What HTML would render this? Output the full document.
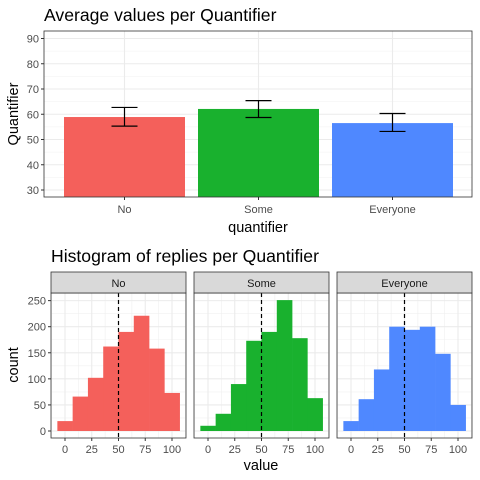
<!DOCTYPE html>
<html><head><meta charset="utf-8"><style>
body{margin:0;background:#fff}
svg{display:block;font-family:"Liberation Sans",sans-serif}
</style></head><body>
<svg id="c" width="480" height="480" viewBox="0 0 480 480"></svg>
<script>
const categories=["No","Some","Everyone"];
const meanValues=[58.9,62.1,56.5];
const errLow=[55.3,58.7,53.2];
const errHigh=[62.7,65.4,60.3];
const yTicksTop=[30,40,50,60,70,80,90];
const binCenters=[0,14.29,28.57,42.86,57.14,71.43,85.71,100];
const countsNo=[19,66,102,162,190,221,158,73];
const countsSome=[10,33,90,173,190,251,178,63];
const countsEveryone=[19,61,118,200,194,200,148,50];
const countTicks=[0,50,100,150,200,250];
const valueTicks=[0,25,50,75,100];
const fills=["#F4605B","#19B12E","#4F88FF"];
const svg=document.getElementById('c');
const NS="http://www.w3.org/2000/svg";
function el(tag,attrs,parent,text){const e=document.createElementNS(NS,tag);for(const k in attrs)e.setAttribute(k,attrs[k]);if(text!==undefined)e.textContent=text;(parent||svg).appendChild(e);return e;}

// Top chart
const tL=44,tR=472,tT=31,tB=197;
const yTop=v=>190-(v-30)*2.525;
const xTop=i=>124.5+i*134;
let t=el('text',{x:44,y:21,'font-size':17.6,fill:'#000'},svg,'Average values per Quantifier');

let p=el('rect',{x:tL,y:tT,width:tR-tL,height:tB-tT,fill:'#fff'});

for(let v=35;v<=90;v+=10){el('line',{x1:tL,x2:tR,y1:yTop(v),y2:yTop(v),stroke:'#f0f0f0','stroke-width':0.6});}
yTicksTop.forEach(v=>{el('line',{x1:tL,x2:tR,y1:yTop(v),y2:yTop(v),stroke:'#ebebeb','stroke-width':1.1});
 el('line',{x1:tL-3,x2:tL,y1:yTop(v),y2:yTop(v),stroke:'#333'});
 const tx=el('text',{x:tL-5,y:yTop(v)+4,'font-size':11,fill:'#4d4d4d','text-anchor':'end'},svg,v);
 });
categories.forEach((c,i)=>{el('line',{x1:xTop(i),x2:xTop(i),y1:tT,y2:tB,stroke:'#ebebeb','stroke-width':1.1});});
categories.forEach((c,i)=>{
 const b=el('rect',{x:xTop(i)-60.5,y:yTop(meanValues[i]),width:121,height:tB-yTop(meanValues[i]),fill:fills[i]});
 
 const g=el('g',{stroke:'#000','stroke-width':1.2});
 
 el('line',{x1:xTop(i),x2:xTop(i),y1:yTop(errLow[i]),y2:yTop(errHigh[i])},g);
 el('line',{x1:xTop(i)-13,x2:xTop(i)+13,y1:yTop(errLow[i]),y2:yTop(errLow[i])},g);
 el('line',{x1:xTop(i)-13,x2:xTop(i)+13,y1:yTop(errHigh[i]),y2:yTop(errHigh[i])},g);
 el('line',{x1:xTop(i),x2:xTop(i),y1:tB,y2:tB+3,stroke:'#333'});
 const tx=el('text',{x:xTop(i),y:tB+16,'font-size':11,fill:'#4d4d4d','text-anchor':'middle'},svg,c);
 
});
el('rect',{x:tL,y:tT,width:tR-tL,height:tB-tT,fill:'none',stroke:'#333','stroke-width':0.8});
t=el('text',{x:258,y:232,'font-size':14.5,fill:'#000','text-anchor':'middle'},svg,'quantifier');

t=el('text',{x:0,y:0,'font-size':14.5,fill:'#000','text-anchor':'middle',transform:'translate(18,114) rotate(-90)'},svg,'Quantifier');


// Bottom histograms
t=el('text',{x:51,y:262,'font-size':17.6,fill:'#000'},svg,'Histogram of replies per Quantifier');

const panels=[51,194,337],pW=135,sT=272,pT=293,pB=438;
const yC=v=>431-v*0.5215;
const allCounts=[countsNo,countsSome,countsEveryone];
panels.forEach((px,pi)=>{
 const xV=v=>px+14+v*1.07;
 const g=el('g',{});
 
 el('rect',{x:px,y:pT,width:pW,height:pB-pT,fill:'#fff'},g);
 for(let v=25;v<=275;v+=50){if(yC(v)>pT)el('line',{x1:px,x2:px+pW,y1:yC(v),y2:yC(v),stroke:'#f0f0f0','stroke-width':0.6},g);}
 for(let v=-12.5;v<=112.5;v+=25){if(xV(v)>px&&xV(v)<px+pW)el('line',{x1:xV(v),x2:xV(v),y1:pT,y2:pB,stroke:'#f0f0f0','stroke-width':0.6},g);}
 countTicks.forEach(v=>el('line',{x1:px,x2:px+pW,y1:yC(v),y2:yC(v),stroke:'#ebebeb','stroke-width':1.1},g));
 valueTicks.forEach(v=>el('line',{x1:xV(v),x2:xV(v),y1:pT,y2:pB,stroke:'#ebebeb','stroke-width':1.1},g));
 const bw=100/7;
 allCounts[pi].forEach((c,k)=>{
  const x0=xV(binCenters[k]-bw/2),x1=xV(binCenters[k]+bw/2);
  const r=el('rect',{x:x0,y:yC(c),width:x1-x0+0.3,height:yC(0)-yC(c),fill:fills[pi]},g);
  
 });
 el('line',{x1:xV(50),x2:xV(50),y1:pT,y2:pB,stroke:'#000','stroke-width':1.2,'stroke-dasharray':'4,3'},g);
 el('rect',{x:px,y:pT,width:pW,height:pB-pT,fill:'none',stroke:'#333','stroke-width':0.8},g);
 el('rect',{x:px,y:sT,width:pW,height:pT-sT,fill:'#d9d9d9',stroke:'#333','stroke-width':0.8},g);
 const st=el('text',{x:px+pW/2,y:sT+15,'font-size':11,fill:'#1a1a1a','text-anchor':'middle'},g,categories[pi]);
 
 valueTicks.forEach(v=>{el('line',{x1:xV(v),x2:xV(v),y1:pB,y2:pB+3,stroke:'#333'},g);
  const tx=el('text',{x:xV(v),y:pB+15,'font-size':11,fill:'#4d4d4d','text-anchor':'middle'},g,v);
  });
});
countTicks.forEach(v=>{el('line',{x1:48,x2:51,y1:yC(v),y2:yC(v),stroke:'#333'});
 const tx=el('text',{x:46,y:yC(v)+4,'font-size':11,fill:'#4d4d4d','text-anchor':'end'},svg,v);
 });
t=el('text',{x:261,y:470,'font-size':14.5,fill:'#000','text-anchor':'middle'},svg,'value');

t=el('text',{x:0,y:0,'font-size':14.5,fill:'#000','text-anchor':'middle',transform:'translate(18,365) rotate(-90)'},svg,'count');

</script>
</body></html>
